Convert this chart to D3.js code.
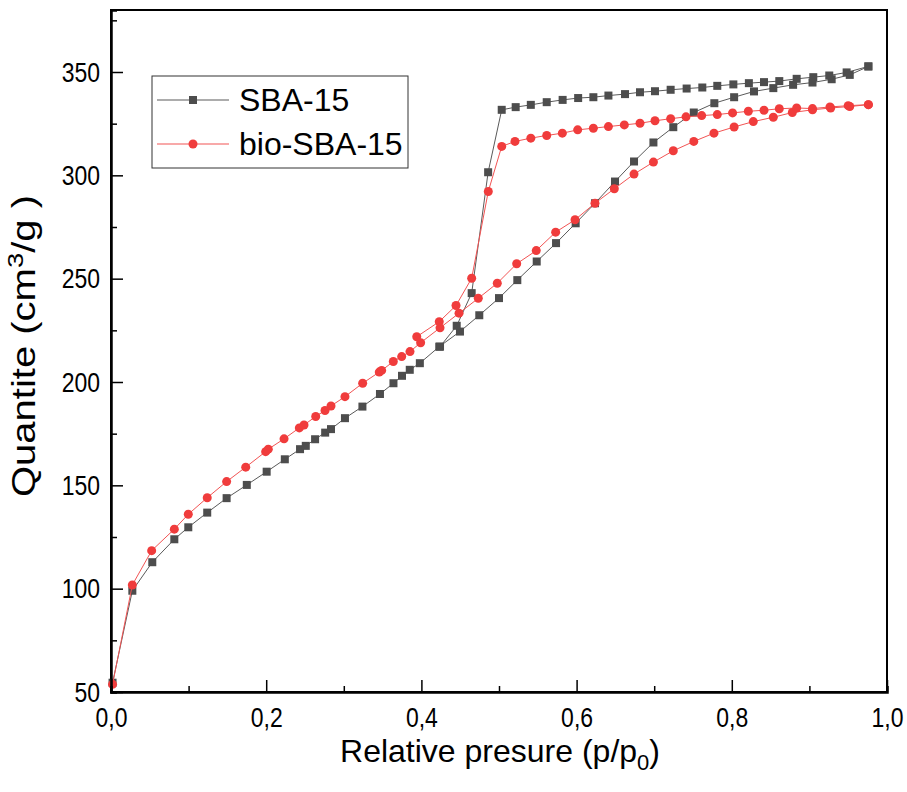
<!DOCTYPE html>
<html>
<head>
<meta charset="utf-8">
<script src="https://cdnjs.cloudflare.com/ajax/libs/d3/7.8.5/d3.min.js"></script>
<style>
  body { margin: 0; background: #fff; }
  text { font-family: "Liberation Sans", Arial, sans-serif; }
</style>
</head>
<body>
<div id="chart"></div>
<script>
// SBA-15 isotherm (adsorption then desorption branch)
var sbaAdsX = [0.002, 0.0275, 0.0532, 0.0816, 0.0996, 0.124, 0.149, 0.175, 0.2006, 0.224, 0.2436, 0.251, 0.263, 0.276, 0.2835, 0.3015, 0.324, 0.3466, 0.364, 0.375, 0.385, 0.398, 0.423, 0.4497, 0.4746, 0.5, 0.5236, 0.5486, 0.5735, 0.5988, 0.6237, 0.6495, 0.674, 0.699, 0.7246, 0.751, 0.7775, 0.803, 0.8286, 0.8535, 0.879, 0.904, 0.9287, 0.952, 0.976];
var sbaAdsY = [54.5, 99, 112.8, 123.9, 129.7, 136.8, 143.8, 150.2, 156.6, 162.6, 167.5, 169.1, 172.3, 175.5, 177.2, 182.5, 188.1, 194.2, 199.4, 203, 205.9, 209.1, 217.1, 224.4, 232.3, 240.6, 249.3, 258.3, 267.2, 276.8, 286.5, 297, 306.7, 315.9, 323.3, 330.4, 334.9, 337.8, 340.6, 342.2, 343.8, 344.9, 346.5, 348.6, 352.7];
var sbaDesX = [0.976, 0.948, 0.9256, 0.905, 0.8836, 0.8612, 0.8415, 0.822, 0.802, 0.7813, 0.762, 0.7418, 0.7212, 0.701, 0.6817, 0.6624, 0.641, 0.6216, 0.602, 0.582, 0.5615, 0.541, 0.5215, 0.5035, 0.486, 0.4648, 0.4455, 0.424];
var sbaDesY = [352.7, 349.8, 348.3, 347.5, 346.7, 345.6, 345.1, 344.6, 344, 343.3, 342.5, 342, 341.4, 340.7, 340.2, 339.3, 338.6, 337.8, 337.4, 336.5, 335.4, 334.1, 333, 331.7, 301.5, 243, 227.2, 217.1];

// bio-SBA-15 isotherm
var bioAdsX = [0.002, 0.0275, 0.0524, 0.0816, 0.0996, 0.124, 0.149, 0.1736, 0.1993, 0.2027, 0.223, 0.2427, 0.2487, 0.2638, 0.2758, 0.2835, 0.3015, 0.3243, 0.3457, 0.3488, 0.3638, 0.3746, 0.3853, 0.399, 0.424, 0.4485, 0.4733, 0.4978, 0.5228, 0.548, 0.573, 0.598, 0.6237, 0.6486, 0.674, 0.699, 0.7246, 0.751, 0.777, 0.803, 0.8277, 0.8535, 0.878, 0.904, 0.9274, 0.952, 0.976];
var bioAdsY = [53.7, 101.8, 118.4, 128.8, 136, 144, 151.8, 158.8, 166.3, 167.5, 172.5, 177.8, 179.2, 183.3, 186.2, 188.4, 192.9, 199.4, 204.8, 205.6, 209.9, 212.3, 214.7, 219, 226.2, 233.3, 240.5, 247.8, 257.2, 263.6, 272.5, 278.5, 286.5, 293.5, 300.6, 306.4, 311.9, 316.4, 320.4, 323.4, 326, 328.1, 330.4, 331.7, 332.6, 333.3, 334.2];
var bioDesX = [0.976, 0.95, 0.9265, 0.904, 0.8836, 0.8612, 0.8415, 0.8213, 0.801, 0.7813, 0.7612, 0.741, 0.7212, 0.701, 0.6817, 0.6615, 0.641, 0.6216, 0.6014, 0.5816, 0.5615, 0.541, 0.5206, 0.5035, 0.4862, 0.4648, 0.4446, 0.423, 0.394];
var bioDesY = [334.2, 333.7, 333.1, 332.3, 332.6, 332.2, 331.5, 331, 330.2, 329.4, 328.9, 328.3, 327.4, 326.4, 325.2, 324.4, 323.6, 322.8, 322, 320.4, 319.3, 318, 316.4, 314, 292.2, 250.2, 237, 229.2, 221.9];

var xTicks = [0, 0.2, 0.4, 0.6, 0.8, 1.0];
var yTicks = [50, 100, 150, 200, 250, 300, 350];

var margin = {top: 10, right: 20, bottom: 100, left: 111},
    width = 907 - margin.left - margin.right,
    height = 792 - margin.top - margin.bottom;

var x = d3.scaleLinear().domain([0, 1]).range([0, width]);
var y = d3.scaleLinear().domain([50, 380]).range([height, 0]);

var svg = d3.select("#chart").append("svg")
    .attr("width", 907)
    .attr("height", 792)
    .append("g")
    .attr("transform", "translate(" + margin.left + "," + margin.top + ")");

function pairs(xs, ys) {
    return xs.map(function (v, i) { return [v, ys[i]]; });
}

var series = [
    {name: "SBA-15", shape: "square", line: "#5a5a5a", fill: "#4d4d4d",
     branches: [pairs(sbaAdsX, sbaAdsY), pairs(sbaDesX, sbaDesY)]},
    {name: "bio-SBA-15", shape: "circle", line: "#f25454", fill: "#f03c3c",
     branches: [pairs(bioAdsX, bioAdsY), pairs(bioDesX, bioDesY)]}
];

var line = d3.line()
    .x(function (d) { return x(d[0]); })
    .y(function (d) { return y(d[1]); });

function marker(g, s) {
    if (s.shape === "square") {
        g.append("rect")
            .attr("x", -4).attr("y", -4)
            .attr("width", 8).attr("height", 8)
            .attr("fill", s.fill);
    } else {
        g.append("circle")
            .attr("r", 4.5)
            .attr("fill", s.fill);
    }
}

// frame
svg.append("rect")
    .attr("width", width)
    .attr("height", height)
    .attr("fill", "none")
    .attr("stroke", "#000")
    .attr("stroke-width", 2);

series.forEach(function (s) {
    s.branches.forEach(function (b) {
        svg.append("path")
            .datum(b)
            .attr("fill", "none")
            .attr("stroke", s.line)
            .attr("stroke-width", 1)
            .attr("d", line);
    });
    s.branches.forEach(function (b) {
        svg.append("g").selectAll("g")
            .data(b)
            .enter().append("g")
            .attr("transform", function (d) {
                return "translate(" + x(d[0]) + "," + y(d[1]) + ")";
            })
            .each(function () { marker(d3.select(this), s); });
    });
});

// axes, ticks pointing inside
var xAxis = svg.append("g")
    .attr("transform", "translate(0," + height + ")")
    .call(d3.axisBottom(x).tickValues(d3.range(0, 1.01, 0.1)).tickSize(-6).tickFormat(""));
xAxis.selectAll(".tick line")
    .attr("y2", function (d, i) { return i % 2 === 0 ? -12 : -6; })
    .attr("stroke-width", 1.5);
xAxis.select(".domain").attr("stroke-width", 2.5);
xAxis.selectAll(".tick").filter(function (d, i) { return i % 2 === 0; })
    .append("text")
    .attr("fill", "#000")
    .attr("transform", "translate(0,35) scale(0.92,1.12)")
    .attr("text-anchor", "middle")
    .attr("font-size", 25)
    .text(function (d) { return d3.format(".1f")(d).replace(".", ","); });

var yAxis = svg.append("g")
    .call(d3.axisLeft(y).tickValues(d3.range(50, 376, 25)).tickSize(-6).tickFormat(""));
yAxis.selectAll(".tick line")
    .attr("x2", function (d, i) { return i % 2 === 0 ? 12 : 6; })
    .attr("stroke-width", 1.5);
yAxis.select(".domain").attr("stroke-width", 2.5);
yAxis.selectAll(".tick").filter(function (d) { return yTicks.indexOf(d) >= 0; })
    .append("text")
    .attr("fill", "#000")
    .attr("transform", "translate(-11,9) scale(0.92,1.12)")
    .attr("text-anchor", "end")
    .attr("font-size", 25)
    .text(function (d) { return d; });

// axis titles
var xt = svg.append("text")
    .attr("x", 389)
    .attr("y", height + 70)
    .attr("text-anchor", "middle")
    .attr("font-size", 32)
    .text("Relative presure (p/p");
xt.append("tspan").attr("font-size", 22).attr("dy", 8).text("0");
xt.append("tspan").attr("dy", -8).text(")");

var yt = svg.append("text")
    .attr("transform", "translate(-76," + (height / 2 - 5) + ") rotate(-90) scale(1.25,1.02)")
    .attr("text-anchor", "middle")
    .attr("font-size", 32)
    .text("Quantite (cm");
yt.append("tspan").attr("font-size", 22).attr("dy", -12).text("3");
yt.append("tspan").attr("dy", 12).text("/g )");

// legend
var legend = svg.append("g")
    .attr("transform", "translate(41,66)");
legend.append("rect")
    .attr("width", 256)
    .attr("height", 92)
    .attr("fill", "#fff")
    .attr("stroke", "#333")
    .attr("stroke-width", 1);
var item = legend.selectAll("g.item")
    .data(series)
    .enter().append("g")
    .attr("class", "item")
    .attr("transform", function (d, i) { return "translate(0," + (24 + i * 44) + ")"; });
item.append("line")
    .attr("x1", 5).attr("x2", 77)
    .attr("stroke", function (d) { return d.line; })
    .attr("stroke-width", 1.2);
item.each(function (d) {
    var g = d3.select(this).append("g").attr("transform", "translate(41,0)");
    marker(g, d);
});
item.append("text")
    .attr("x", 87)
    .attr("dy", "0.35em")
    .attr("font-size", 32)
    .text(function (d) { return d.name; });
</script>
</body>
</html>
